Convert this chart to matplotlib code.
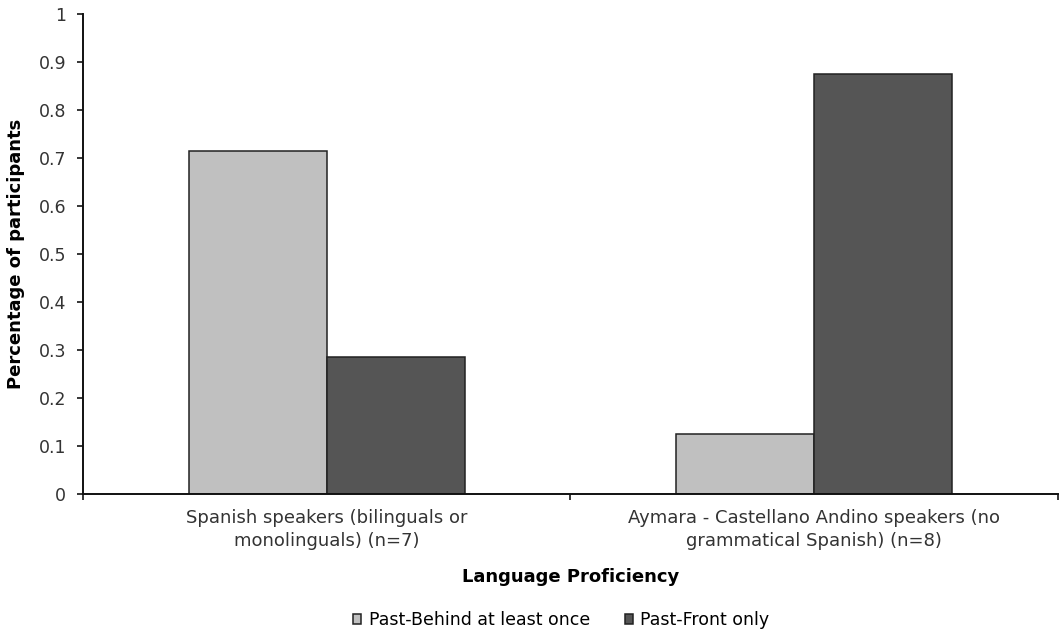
import numpy as np
import matplotlib.pyplot as plt

categories = ['Spanish speakers (bilinguals or\nmonolinguals) (n=7)',
              'Aymara - Castellano Andino speakers (no\ngrammatical Spanish) (n=8)']
series_names = ['Past-Behind at least once', 'Past-Front only']
past_behind = [0.714, 0.125]
past_front = [0.286, 0.875]
yticks = [0, 0.1, 0.2, 0.3, 0.4, 0.5, 0.6, 0.7, 0.8, 0.9, 1]
ytick_labels = ['0', '0.1', '0.2', '0.3', '0.4', '0.5', '0.6', '0.7', '0.8', '0.9', '1']

plt.rcParams['font.family'] = ['DejaVu Sans']

fig = plt.figure(figsize=(10.63, 6.34), dpi=100)
ax = fig.add_axes([0.0781, 0.2208, 0.917, 0.757])

x = np.arange(len(categories))
w = 0.283
ax.bar(x - w / 2, past_behind, w, color='#c0c0c0', edgecolor='#222222', linewidth=1.1,
       label=series_names[0])
ax.bar(x + w / 2, past_front, w, color='#555555', edgecolor='#222222', linewidth=1.1,
       label=series_names[1])

ax.set_xlim(-0.5, 1.5)
ax.set_ylim(0, 1)
ax.set_yticks(yticks)
ax.set_yticklabels(ytick_labels, fontsize=12.5, color='#333333')
ax.set_xticks(x)
ax.set_xticklabels(categories, fontsize=13, color='#333333', linespacing=1.35)
ax.tick_params(axis='x', which='major', length=0, pad=11)
ax.set_xticks([-0.5, 0.5, 1.5], minor=True)
ax.tick_params(axis='x', which='minor', length=4, width=1.1)
ax.tick_params(axis='y', length=4, width=1.1, pad=8)

for s in ['top', 'right']:
    ax.spines[s].set_visible(False)
for s in ['left', 'bottom']:
    ax.spines[s].set_linewidth(1.4)
    ax.spines[s].set_color('#111111')

ax.set_ylabel('Percentage of participants', fontsize=13, fontweight='bold', labelpad=10)
ax.set_xlabel('Language Proficiency', fontsize=13, fontweight='bold', labelpad=13)

fig.legend(loc='center', bbox_to_anchor=(0.528, 0.022), ncol=2, frameon=False,
           fontsize=12.5, handlelength=0.45, handleheight=0.45, columnspacing=2.0,
           handletextpad=0.45)

fig.savefig('out.png', dpi=100)
